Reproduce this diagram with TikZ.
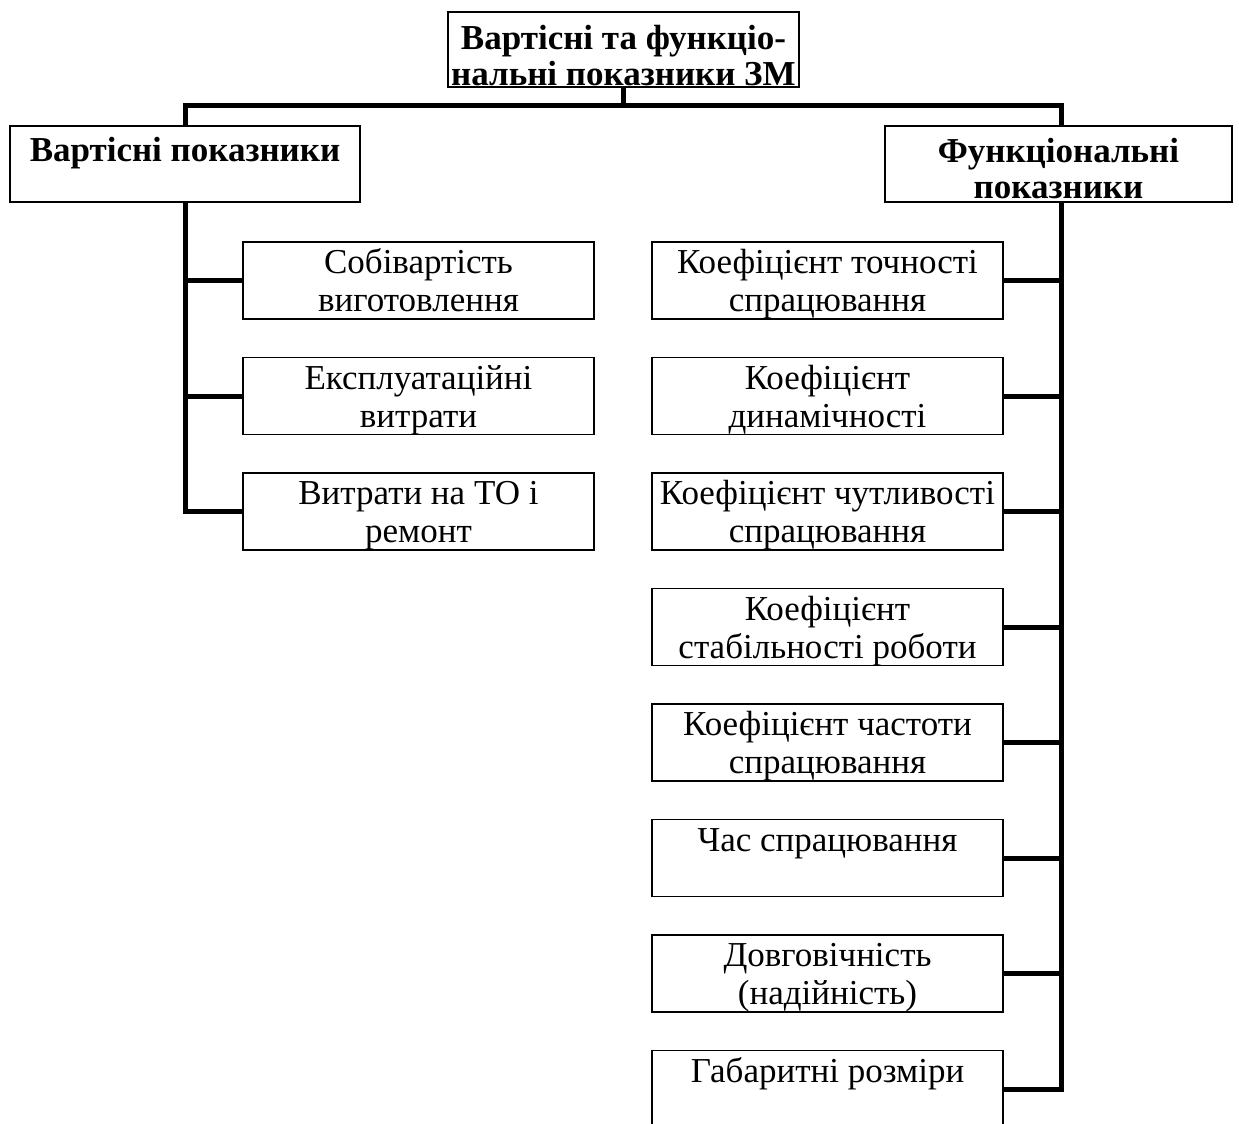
\documentclass[tikz,border=0pt]{standalone}
\usepackage{fontspec}
\setmainfont{Liberation Serif}
\newcommand\twolines[2]{\begin{tabular}[t]{@{}c@{}}#1\\#2\end{tabular}}
\begin{document}
\begin{tikzpicture}[x=0.75pt,y=-0.75pt,
  box/.style={draw, line width=1.1pt, inner sep=0pt,
              minimum width=263.25pt, minimum height=57.75pt},
  txt/.style={inner sep=0pt, anchor=base,
              font=\fontsize{26.25pt}{28.5pt}\selectfont},
  htxt/.style={inner sep=0pt, anchor=base,
               font=\fontsize{26.25pt}{27pt}\selectfont\bfseries},
  conn/.style={line width=3.75pt, line join=miter}]

\fill[white] (0,0) rectangle (1239,1124);
\clip (0,0) rectangle (1239,1124);

% headers
\node[box, minimum height=56.25pt] (title) at (623.5,49.5) {};
\node[box, minimum width=262.5pt, minimum height=57pt] (lhead) at (185,164) {};
\node[box, minimum width=260.25pt, minimum height=57pt] (rhead) at (1058.5,164) {};

\node[htxt] (ttitle) at ([yshift=-28.5pt]title.north)
  {\twolines{Вартісні та функціо-}{нальні показники ЗМ}};
\node[htxt] (tlhead) at ([yshift=-27pt]lhead.north) {Вартісні показники};
\node[htxt] (trhead) at ([yshift=-27.75pt]rhead.north)
  {\twolines{Функціональні}{показники}};

% cost indicators
\node[box] (L1) at (418.5,280.5) {};
\node[box] (L2) at (418.5,396) {};
\node[box] (L3) at (418.5,511.5) {};
\node[txt] (tL1) at ([yshift=-24.4pt]L1.north) {\twolines{Собівартість}{виготовлення}};
\node[txt] (tL2) at ([yshift=-24.4pt]L2.north) {\twolines{Експлуатаційні}{витрати}};
\node[txt] (tL3) at ([yshift=-24.4pt]L3.north) {\twolines{Витрати на ТО і}{ремонт}};

% functional indicators
\node[box] (R1) at (827.5,280.5) {};
\node[box] (R2) at (827.5,396) {};
\node[box] (R3) at (827.5,511.5) {};
\node[box] (R4) at (827.5,627) {};
\node[box] (R5) at (827.5,742.5) {};
\node[box] (R6) at (827.5,858) {};
\node[box] (R7) at (827.5,973.5) {};
\node[box] (R8) at (827.5,1089) {};
\node[txt] (tR1) at ([yshift=-24.4pt]R1.north) {\twolines{Коефіцієнт точності}{спрацювання}};
\node[txt] (tR2) at ([yshift=-24.4pt]R2.north) {\twolines{Коефіцієнт}{динамічності}};
\node[txt] (tR3) at ([yshift=-24.4pt]R3.north) {\twolines{Коефіцієнт чутливості}{спрацювання}};
\node[txt] (tR4) at ([yshift=-24.4pt]R4.north) {\twolines{Коефіцієнт}{стабільності роботи}};
\node[txt] (tR5) at ([yshift=-24.4pt]R5.north) {\twolines{Коефіцієнт частоти}{спрацювання}};
\node[txt] (tR6) at ([yshift=-24.4pt]R6.north) {Час спрацювання};
\node[txt] (tR7) at ([yshift=-24.4pt]R7.north) {\twolines{Довговічність}{(надійність)}};
\node[txt] (tR8) at ([yshift=-24.4pt]R8.north) {Габаритні розміри};

% connectors
\coordinate (bus) at ([yshift=-13.5pt]title.south);
\coordinate (rt) at ([xshift=1.875pt]rhead.north);
\coordinate (rb) at ([xshift=1.875pt]rhead.south);
\draw[conn] (title.south) -- (bus);
\draw[conn] (lhead.north) |- (bus) -| (rt);

\draw[conn] (lhead.south) |- (L3.west);
\draw[conn] (L1.west) -- (L1.west -| lhead.south);
\draw[conn] (L2.west) -- (L2.west -| lhead.south);

\draw[conn] (rb) |- (R8.east);
\foreach \i in {1,...,7}{
  \draw[conn] (R\i.east) -- (R\i.east -| rb);
}
\end{tikzpicture}
\end{document}
